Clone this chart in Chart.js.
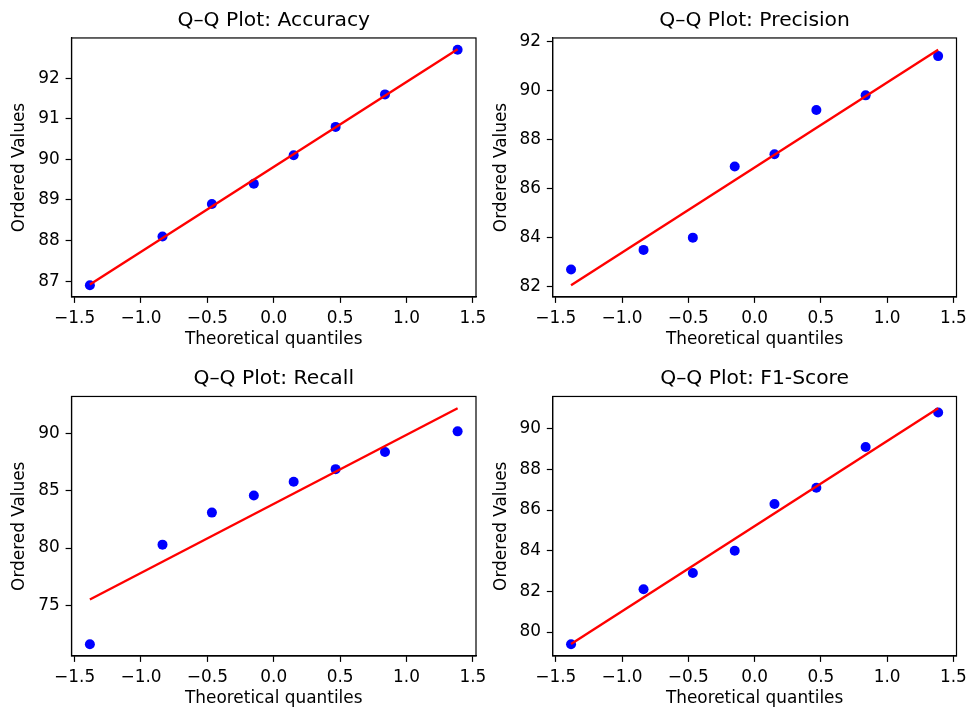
<!DOCTYPE html>
<html>
<head>
<meta charset="utf-8">
<script src="https://cdn.jsdelivr.net/npm/chart.js@4/dist/chart.umd.min.js"></script>
<style>
  body { margin: 0; background: #fff; }
  canvas { position: absolute; }
</style>
</head>
<body>
<canvas id="c1" width="500" height="355" style="left:0px;top:0px"></canvas>
<canvas id="c2" width="483" height="355" style="left:483px;top:0px"></canvas>
<canvas id="c3" width="500" height="356" style="left:0px;top:355px"></canvas>
<canvas id="c4" width="483" height="356" style="left:483px;top:355px"></canvas>
<script>
// theoretical quantiles (same for all four panels, n = 8)
const quantiles = [-1.385, -0.838, -0.466, -0.150, 0.150, 0.466, 0.838, 1.385];

// ordered values
const accuracy = [86.9, 88.1, 88.9, 89.4, 90.1, 90.8, 91.6, 92.7];
const precision = [82.7, 83.5, 84.0, 86.9, 87.4, 89.2, 89.8, 91.4];
const recall = [71.6, 80.3, 83.1, 84.6, 85.8, 86.9, 88.4, 90.2];
const f1Score = [79.4, 82.1, 82.9, 84.0, 86.3, 87.1, 89.1, 90.8];

// red reference line, value at first and last quantile
const fitX = [-1.385, 1.385];
const accuracyFit = [86.92, 92.71];
const precisionFit = [82.06, 91.66];
const recallFit = [75.51, 92.22];
const f1Fit = [79.41, 91.01];

const titles = ['Q–Q Plot: Accuracy', 'Q–Q Plot: Precision', 'Q–Q Plot: Recall', 'Q–Q Plot: F1-Score'];

const xRange = [-1.5235, 1.5235];
const yRanges = [[86.61, 92.99], [81.58, 92.14], [70.57, 93.25], [78.82, 91.59]];
const yTickSteps = [1, 2, 5, 2];

const FONT = 'DejaVu Sans';
const LABEL_SIZE = 16.9;
const TITLE_SIZE = 20.3;

// draws the full box around the plot area, like matplotlib spines
const framePlugin = {
  id: 'frame',
  afterDraw(chart) {
    const { ctx, chartArea } = chart;
    ctx.save();
    ctx.strokeStyle = '#000';
    ctx.lineWidth = 1.2;
    ctx.strokeRect(chartArea.left, chartArea.top, chartArea.right - chartArea.left, chartArea.bottom - chartArea.top);
    ctx.restore();
  },
};

function toPoints(xs, ys) {
  return xs.map((x, i) => ({ x: x, y: ys[i] }));
}

function makeChart(id, title, values, fit, yRange, step, area) {
  const canvas = document.getElementById(id);
  const W = canvas.width;
  const H = canvas.height;
  return new Chart(canvas, {
    type: 'scatter',
    data: {
      datasets: [{
        label: 'fit',
        data: toPoints(fitX, fit),
        showLine: true,
        borderColor: '#ff0000',
        borderWidth: 2.4,
        pointRadius: 0,
        order: 0,
      },
      {
        label: 'values',
        data: toPoints(quantiles, values),
        backgroundColor: '#0000ff',
        borderWidth: 0,
        pointRadius: 5,
        order: 1,
      }],
    },
    options: {
      responsive: false,
      animation: false,
      devicePixelRatio: 1,
      layout: {
        padding: { left: 0, right: W - area.r, top: 0, bottom: 0 },
      },
      plugins: {
        legend: { display: false },
        tooltip: { enabled: false },
        title: {
          display: true,
          fullSize: false,
          text: title,
          color: '#000',
          font: { family: FONT, size: TITLE_SIZE, weight: 'normal' },
          padding: { top: area.t - 29.7, bottom: 5.3 },
        },
      },
      scales: {
        x: {
          type: 'linear',
          min: xRange[0],
          max: xRange[1],
          afterFit: (scale) => {
            scale.height = H - area.b;
            scale.paddingLeft = 0;
            scale.paddingRight = 0;
          },
          grid: { drawOnChartArea: false, tickLength: 5.9, tickColor: '#000', tickWidth: 1.2 },
          border: { color: '#000', width: 1.2 },
          ticks: {
            stepSize: 0.5,
            includeBounds: false,
            maxRotation: 0,
            padding: 5.9,
            color: '#000',
            font: { family: FONT, size: LABEL_SIZE },
            callback: (v) => v.toFixed(1).replace('-', '\u2212'),
          },
          title: {
            display: true,
            text: 'Theoretical quantiles',
            color: '#000',
            font: { family: FONT, size: LABEL_SIZE },
            padding: { top: 0, bottom: H - area.b - 43 - 10.15 },
          },
        },
        y: {
          type: 'linear',
          min: yRange[0],
          max: yRange[1],
          afterFit: (scale) => {
            scale.width = area.l;
            scale.paddingTop = 0;
            scale.paddingBottom = 0;
          },
          grid: { drawOnChartArea: false, tickLength: 5.9, tickColor: '#000', tickWidth: 1.2 },
          border: { color: '#000', width: 1.2 },
          ticks: {
            stepSize: step,
            includeBounds: false,
            padding: 5.9,
            color: '#000',
            font: { family: FONT, size: LABEL_SIZE },
            callback: (v) => String(v),
          },
          title: {
            display: true,
            text: 'Ordered Values',
            color: '#000',
            font: { family: FONT, size: LABEL_SIZE },
            padding: { top: area.l - 51.5 - 10.15, bottom: 0 },
          },
        },
      },
    },
    plugins: [framePlugin],
  });
}

// plot areas in canvas coordinates
const areas = [
  { l: 71.5, r: 476, t: 38, b: 297 },
  { l: 69.7, r: 473.5, t: 38, b: 297 },
  { l: 71.5, r: 476, t: 41.5, b: 301 },
  { l: 69.7, r: 473.5, t: 41.5, b: 301 },
];
const series = [accuracy, precision, recall, f1Score];
const fits = [accuracyFit, precisionFit, recallFit, f1Fit];

for (let i = 0; i < 4; i++) {
  makeChart('c' + (i + 1), titles[i], series[i], fits[i], yRanges[i], yTickSteps[i], areas[i]);
}
</script>
</body>
</html>
